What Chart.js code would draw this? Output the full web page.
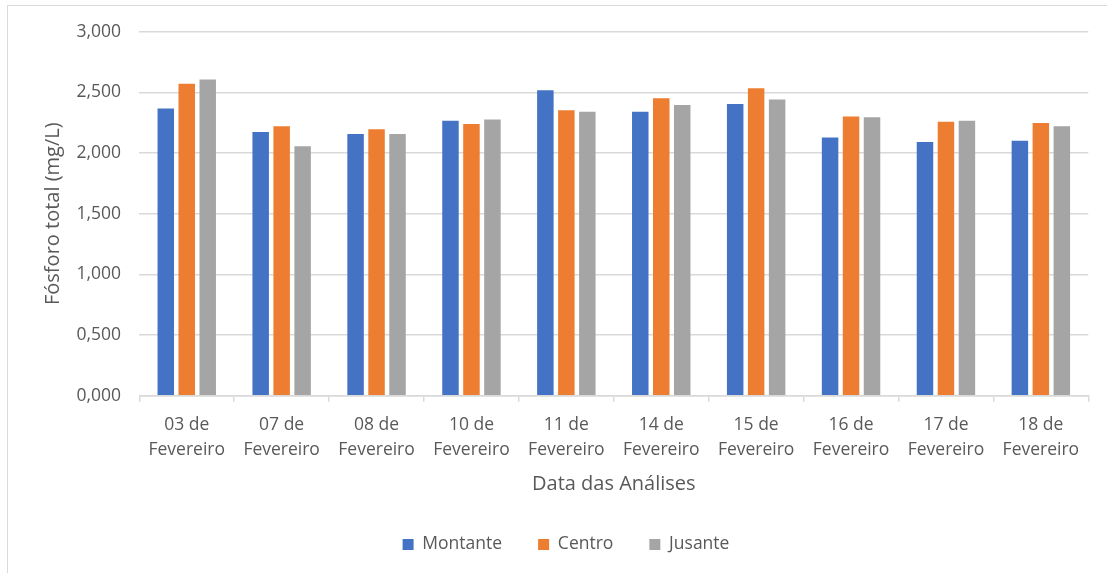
<!DOCTYPE html>
<html>
<head>
<meta charset="utf-8">
<script src="https://cdn.jsdelivr.net/npm/chart.js@4/dist/chart.umd.min.js"></script>
<style>
  html, body { margin: 0; padding: 0; background: #ffffff; }
  #wrap { position: relative; width: 1107px; height: 573px; overflow: hidden; }
  #frame { position: absolute; left: 7px; top: 5px; width: 1200px; height: 700px;
           border: 1.5px solid #d9d9d9; box-sizing: border-box; }
  canvas { position: absolute; left: 0; top: 0; }
</style>
</head>
<body>
<div id="wrap">
  <div id="frame"></div>
  <canvas id="chart" width="1107" height="573"></canvas>
</div>
<script>
// Analysis dates (two-line category labels)
const categories = [
  ["03 de", "Fevereiro"], ["07 de", "Fevereiro"], ["08 de", "Fevereiro"],
  ["10 de", "Fevereiro"], ["11 de", "Fevereiro"], ["14 de", "Fevereiro"],
  ["15 de", "Fevereiro"], ["16 de", "Fevereiro"], ["17 de", "Fevereiro"],
  ["18 de", "Fevereiro"]
];

// Total phosphorus (mg/L) at each sampling point
const montante = [2.368, 2.173, 2.157, 2.266, 2.517, 2.341, 2.404, 2.129, 2.091, 2.102];
const centro   = [2.571, 2.220, 2.195, 2.239, 2.352, 2.451, 2.533, 2.302, 2.258, 2.247];
const jusante  = [2.607, 2.055, 2.157, 2.277, 2.341, 2.396, 2.442, 2.294, 2.266, 2.220];

const seriesNames = ["Montante", "Centro", "Jusante"];
const seriesColors = ["#4472C4", "#ED7D31", "#A5A5A5"];

// Value axis ticks
const yMin = 0, yMax = 3, yStep = 0.5;
const fmt = v => v.toFixed(3).replace(".", ",");

const textColor = "#595959";
const gridColor = "#d9d9d9";
Chart.defaults.font.family = "'Open Sans', 'Noto Sans', sans-serif";
Chart.defaults.color = textColor;

new Chart(document.getElementById("chart"), {
  type: "bar",
  data: {
    labels: categories,
    datasets: [
      { label: seriesNames[0], data: montante, backgroundColor: seriesColors[0] },
      { label: seriesNames[1], data: centro,   backgroundColor: seriesColors[1] },
      { label: seriesNames[2], data: jusante,  backgroundColor: seriesColors[2] }
    ]
  },
  options: {
    responsive: false,
    devicePixelRatio: 1,
    animation: false,
    categoryPercentage: 0.663,
    barPercentage: 0.786,
    layout: { padding: { left: 43.7, right: 18.7, top: 31.7, bottom: 9.75 } },
    plugins: {
      tooltip: { enabled: false },
      legend: {
        position: "bottom",
        labels: {
          boxWidth: 11,
          boxHeight: 11,
          padding: 36,
          color: textColor,
          font: { size: 17.5 }
        }
      }
    },
    scales: {
      x: {
        afterFit: s => { s.height = 104.05; },
        grid: { offset: true, drawOnChartArea: false, tickLength: 6, color: gridColor, lineWidth: 1.5 },
        border: { color: gridColor, width: 1.5 },
        ticks: { padding: 10.8, color: textColor, font: { size: 17.5, lineHeight: 1.43 }, maxRotation: 0 },
        title: {
          display: true, text: "Data das Análises", color: textColor,
          font: { size: 20 }, padding: { top: 0, bottom: 3.75 }
        }
      },
      y: {
        min: yMin, max: yMax,
        afterFit: s => { s.width = 95.6; },
        grid: { drawTicks: false, color: gridColor, lineWidth: 1.5 },
        border: { display: false },
        ticks: { stepSize: yStep, padding: 18.3, color: textColor, font: { size: 17.5 }, callback: v => fmt(v) },
        title: {
          display: true, text: "Fósforo total (mg/L)", color: textColor,
          font: { size: 20 }, padding: { top: -2.7, bottom: 0 }
        }
      }
    }
  }
});
</script>
</body>
</html>
